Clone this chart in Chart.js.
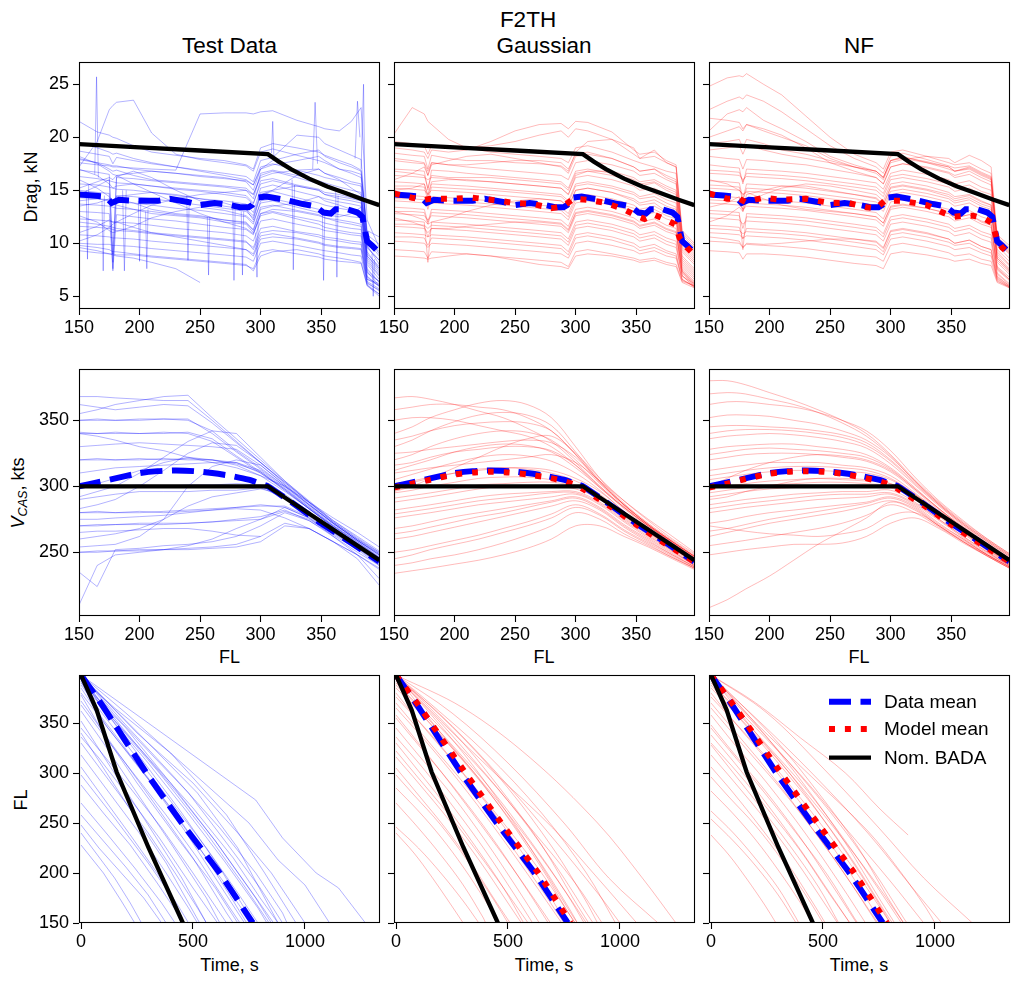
<!DOCTYPE html>
<html><head><meta charset="utf-8">
<script src="https://cdn.jsdelivr.net/npm/chart.js@4.4.0/dist/chart.umd.min.js"></script>
<style>
body{margin:0;background:#fff;width:1018px;height:984px;position:relative;overflow:hidden;font-family:"Liberation Sans",Arial,sans-serif;color:#000;}
canvas{position:absolute;}
.t{position:absolute;white-space:nowrap;transform:translate(-50%,-50%);line-height:1.15;}
.r{transform:translate(-50%,-50%) rotate(-90deg);}
.l{position:absolute;white-space:nowrap;transform:translateY(-50%);line-height:1.15;font-size:19px;}
sub{font-size:70%;vertical-align:-0.25em;}
</style></head><body>
<div class="t" style="left:528px;top:20px;font-size:22.5px">F2TH</div>
<div class="t" style="left:229.5px;top:46px;font-size:22.5px">Test Data</div>
<div class="t" style="left:544px;top:46px;font-size:22.5px">Gaussian</div>
<div class="t" style="left:859px;top:46px;font-size:22.5px">NF</div>
<div class="t r" style="left:31px;top:187px;font-size:18px">Drag, kN</div>
<div class="t r" style="left:19px;top:493px;font-size:18px"><i>V</i><sub><i>CAS</i></sub>, kts</div>
<div class="t r" style="left:21px;top:800px;font-size:18px">FL</div>
<div class="t" style="left:229.5px;top:657px;font-size:18px">FL</div>
<div class="t" style="left:544px;top:657px;font-size:18px">FL</div>
<div class="t" style="left:859px;top:657px;font-size:18px">FL</div>
<div class="t" style="left:229.5px;top:965px;font-size:18px">Time, s</div>
<div class="t" style="left:544px;top:965px;font-size:18px">Time, s</div>
<div class="t" style="left:859px;top:965px;font-size:18px">Time, s</div>
<script>
// ---------------- DATA ----------------
const flTicks = [150, 200, 250, 300, 350];
const dragTicks = [5, 10, 15, 20, 25];
const vcasTicks = [250, 300, 350];
const timeTicks = [0, 500, 1000];
const flYTicks = [150, 200, 250, 300, 350];

// FL grid for drag trajectories
const flGridDrag = [150,165,175,178,181,195,210,230,250,270,288,294,300,310,330,348,353,365,375,383,388,398];
// FL grid for speed trajectories
const flGridVcas = [150,165,180,200,220,240,260,280,300,320,340,360,380,398];

// Nominal BADA
const dragBADA = [[150,19.35],[200,19.05],[250,18.75],[306,18.4],[315,17.7],[325,17.0],[340,16.1],[355,15.35],[370,14.75],[385,14.1],[398,13.6]];
const vcasBADA = [[150,300],[306,300],[398,244]];
const timeBADA = [[0,398],[70,363],[159,301],[300,226],[455,150]];

// Data means
const dragDataMean = [[150,14.6],[162,14.5],[172,14.4],[177,13.8],[183,14.1],[195,14.0],[205,14.0],[215,14.0],[225,14.2],[240,13.9],[250,13.6],[262,13.8],[275,13.6],[283,13.4],[290,13.4],[293,13.6],[297,14.3],[305,14.4],[320,14.1],[335,13.7],[345,13.5],[352,12.9],[358,12.8],[362,13.2],[372,13.2],[380,12.9],[384,12.5],[388,10.2],[392,9.8],[398,9.1]];
const vcasDataMean = [[150,300],[165,303],[180,306],[200,310],[215,311.5],[230,312],[245,311.5],[260,310],[275,308],[290,305],[300,302],[306,300],[330,285],[350,272],[375,257],[398,243]];
const timeDataMean = [[0,398],[100,366],[292,300],[450,250],[619,200],[767,150]];

// Model means
const dragModelMeanG = [[150,14.7],[165,14.3],[175,14.1],[180,14.2],[200,14.2],[215,14.3],[230,14.1],[250,13.8],[265,13.7],[280,13.3],[290,13.5],[298,14.2],[310,14.1],[325,13.8],[340,13.2],[350,12.6],[357,12.3],[365,12.7],[375,12.2],[382,11.8],[386,10.5],[392,9.6],[398,8.9]];
const dragModelMeanNF = [[150,14.7],[165,14.2],[175,14.2],[180,13.9],[195,14.3],[210,14.1],[230,14.2],[250,13.8],[265,13.8],[280,13.4],[288,13.3],[295,14.0],[310,14.0],[330,13.6],[345,12.8],[352,12.5],[360,12.6],[368,12.6],[378,12.3],[384,11.9],[388,10.3],[392,9.6],[398,9.0]];
const vcasModelMeanG = [[150,299],[165,302],[180,305],[200,309],[215,310.5],[230,311],[245,310.5],[260,309],[275,307],[290,304],[300,301],[306,298],[330,284],[350,271],[375,256],[398,243]];
const vcasModelMeanNF = [[150,299],[165,302],[180,305.5],[200,309.5],[215,311],[230,311.5],[245,311],[260,309.5],[275,307],[290,304],[300,301],[306,298],[330,284],[350,271],[375,256],[398,243]];
const timeModelMeanG = [[0,398],[100,368],[310,300],[470,250],[635,200],[780,150]];
const timeModelMeanNF = [[0,398],[100,368],[312,300],[475,250],[640,200],[785,150]];

// Drag trajectories: Test Data
const dragTest = [
 [21.5,20.5,20.2,20.0,19.9,19.2,18.6,18.3,18.0,17.8,17.4,17.0,19.0,19.4,19.0,18.6,18.3,17.8,17.4,16.9,10.8,9.9],
 [17.6,17.4,17.3,17.2,17.2,17.1,17.0,16.9,22.2,22.3,22.3,22.2,22.4,22.5,21.6,21.0,20.8,20.6,21.5,22.8,12.2,9.6],
 [17.2,19.6,22.6,23.0,23.3,23.5,20.4,18.4,17.9,17.6,17.3,16.8,18.6,18.9,18.3,17.8,17.6,17.0,16.6,16.2,11.2,10.6],
 [18.7,18.4,18.2,17.5,18.1,17.8,17.5,17.2,16.9,16.6,16.3,15.8,17.8,18.1,20.2,20.0,19.4,18.8,18.3,17.9,10.2,8.8],
 [17.9,17.6,17.4,17.3,17.3,17.0,16.8,16.6,16.3,16.1,15.9,15.5,17.2,17.5,16.9,16.4,16.2,15.9,15.6,15.4,9.6,8.4],
 [16.9,16.7,16.5,9.0,16.2,16.1,15.9,15.7,15.5,15.3,15.0,14.2,16.6,16.9,16.4,15.9,15.7,15.3,15.0,14.8,9.2,7.6],
 [16.3,16.1,15.9,15.8,15.7,15.6,15.4,15.1,14.9,14.6,14.3,13.7,15.9,16.1,15.5,15.1,14.8,14.6,14.3,14.1,8.6,7.2],
 [15.6,15.5,15.3,15.2,15.1,15.0,14.8,14.5,14.2,14.0,13.7,12.9,15.2,15.5,14.9,14.4,14.2,13.9,13.7,13.5,8.2,6.9],
 [15.0,14.8,14.7,7.6,14.5,14.4,14.2,13.9,13.6,13.3,13.0,12.4,14.6,14.9,14.3,13.8,13.6,13.3,13.1,12.9,8.0,6.6],
 [14.3,14.2,14.0,13.9,13.9,13.8,13.6,13.3,13.1,12.8,12.5,11.8,14.0,14.2,13.7,13.2,13.0,12.7,12.5,12.4,7.6,6.3],
 [13.7,13.6,13.5,13.4,13.3,13.2,13.0,12.7,12.5,12.2,11.9,11.3,13.4,13.6,13.1,12.7,12.4,12.2,12.0,11.8,7.3,6.0],
 [13.0,12.9,12.8,7.4,12.7,12.5,12.3,12.1,11.8,11.5,11.3,10.8,12.8,13.0,12.5,12.1,11.9,11.6,11.4,11.3,6.9,5.9],
 [12.3,12.2,12.1,12.0,12.0,11.9,11.7,11.4,11.2,11.0,10.7,10.2,12.1,12.3,11.8,11.4,11.2,11.0,10.8,10.7,6.6,6.2],
 [11.6,11.5,11.4,11.3,11.2,11.1,10.9,10.7,10.5,10.3,10.1,9.6,11.4,11.6,11.1,10.8,10.6,10.4,10.2,10.1,6.4,5.7],
 [10.8,10.7,10.6,10.5,10.5,10.4,10.2,10.0,9.8,9.6,9.4,9.0,10.7,10.9,10.5,10.1,9.9,9.7,9.6,9.5,6.3,5.5],
 [10.0,9.9,9.9,9.8,9.8,9.7,9.5,9.3,9.1,8.9,8.7,8.3,10.0,10.2,9.8,9.4,9.3,9.1,8.9,8.8,6.1,5.2],
 [9.3,9.1,9.0,9.0,8.9,8.9,8.7,8.5,8.3,8.1,7.9,7.6,9.2,9.4,9.0,8.7,8.5,8.3,8.2,8.1,6.0,5.0],
 [9.6,9.3,9.0,8.9,8.8,8.6,8.2,7.6,6.3,null,null,null,null,null,null,null,null,null,null,null,null,null],
 [10.2,10.8,11.5,11.8,12.0,12.8,13.6,14.2,14.6,14.8,15.0,14.6,16.4,16.8,16.2,15.6,15.3,15.0,14.7,14.4,9.0,7.8],
 [18.2,17.5,16.8,16.5,16.4,15.6,14.8,13.8,12.8,12.0,11.4,10.9,12.6,12.9,12.3,11.8,11.5,11.2,11.0,10.9,6.8,6.0],
 [14.6,15.4,16.0,8.2,16.3,16.8,16.2,15.0,14.0,13.5,13.2,12.6,14.8,15.0,16.4,17.0,16.6,16.0,15.2,14.6,9.8,8.0],
 [12.6,12.0,11.2,11.0,11.1,11.6,12.4,13.0,13.4,13.1,12.6,12.0,13.8,14.0,13.4,12.9,12.7,12.5,12.8,13.4,7.4,6.4],
 [19.5,19.0,18.6,18.4,18.5,18.0,17.6,17.2,16.8,16.4,16.0,15.5,17.0,17.4,17.8,18.2,17.8,17.0,16.8,16.5,10.4,9.2],
 [16.0,15.2,14.4,14.0,14.2,13.8,13.2,12.8,12.6,12.2,12.0,11.2,13.2,13.5,13.8,14.4,14.0,13.6,13.2,13.0,8.4,7.0],
 [13.5,13.8,14.2,14.0,14.4,14.6,14.8,14.6,14.2,13.8,13.2,12.2,14.6,15.0,15.4,15.0,14.6,14.2,14.0,13.8,8.8,7.4],
 [11.0,11.6,12.2,12.0,12.0,11.5,11.0,10.6,10.2,9.8,9.4,8.8,10.4,10.6,10.4,10.0,9.8,9.6,9.5,9.4,6.2,5.6],
 [15.2,15.8,16.2,16.0,16.4,16.6,16.8,16.6,16.4,16.2,15.8,15.0,17.0,17.8,18.4,18.8,18.2,17.6,17.2,16.8,10.6,9.0],
 [12.0,11.8,11.6,11.5,11.4,11.2,11.0,10.8,10.6,10.4,10.2,9.4,11.0,11.2,11.0,10.6,10.4,10.2,10.0,9.9,6.6,6.0],
 [14.0,14.2,14.1,14.0,13.6,13.2,12.8,12.6,12.4,12.0,11.8,11.0,12.8,13.2,13.0,12.6,12.4,12.0,11.8,11.6,7.2,6.4],
 [17.0,16.4,15.6,15.2,15.4,15.6,15.4,15.2,15.0,14.8,14.5,13.8,15.6,15.9,15.4,15.0,14.6,14.4,14.2,14.0,8.8,7.6],
 [9.8,9.6,9.4,9.2,9.2,9.0,8.8,8.6,8.4,8.2,8.0,7.4,8.8,9.2,9.4,9.0,8.8,8.6,8.4,8.2,6.0,5.2],
 [18.0,17.6,17.0,16.8,16.9,16.4,16.0,15.8,15.6,15.4,15.2,14.6,16.2,16.6,16.9,17.0,16.6,16.2,15.8,15.6,9.6,8.4]
];
// Drag spikes in Test Data (short excursions)
const dragTestSpikes = [
 [[163,16.5],[164.5,25.7],[166,16.2]],
 [[156,15.0],[157,8.5],[158,15.5]],
 [[169,14.0],[170,7.4],[171,14.5]],
 [[186,15.0],[187.5,7.4],[189,15.0]],
 [[199,14.0],[200,8.3],[201,13.8]],
 [[205,13.0],[206,7.6],[207,13.2]],
 [[239,14.5],[240,8.4],[241,14.0]],
 [[256,12.5],[257,7.0],[258,12.5]],
 [[277,14.0],[278,6.5],[279,13.5]],
 [[284,13.0],[285,7.0],[286,13.0]],
 [[296,11.0],[297,6.8],[298,12.0]],
 [[309,18.5],[310,21.5],[311,18.0]],
 [[343,17.0],[345,23.3],[347,17.5]],
 [[326,16.0],[327,7.5],[328,15.5]],
 [[351,13.0],[352,6.5],[353,12.8]],
 [[362,15.0],[363,6.8],[364,14.5]],
 [[378,18.0],[380,23.4],[382,20.0]],
 [[383,17.0],[385,25.0],[386.5,11.0]],
 [[392,9.0],[393,5.0],[394,8.5]]
];
// Drag trajectories: Gaussian samples
const dragGauss = [
 [20.3,22.8,22.2,21.5,21.2,19.8,19.0,18.6,18.4,18.2,18.0,17.6,19.0,19.2,18.6,17.8,17.6,17.2,16.8,16.6,10.5,9.4],
 [19.0,18.8,18.6,18.0,18.8,18.6,18.8,19.6,20.6,21.2,21.3,20.8,21.5,21.4,20.5,18.8,18.4,18.6,17.8,17.4,11.2,10.0],
 [18.5,18.3,18.2,17.0,18.3,18.0,17.8,17.8,17.6,17.5,17.3,16.8,18.6,19.6,19.8,19.0,18.0,18.8,17.6,17.2,10.8,9.6],
 [17.8,17.6,17.5,16.4,17.6,17.4,17.2,17.0,16.8,16.6,16.4,16.0,17.6,17.8,17.4,16.8,16.4,16.6,16.0,15.6,10.0,8.8],
 [17.0,16.9,16.8,15.0,16.9,16.8,16.6,16.4,16.2,16.0,15.8,15.2,16.8,17.0,16.6,16.0,15.6,15.8,15.2,14.8,9.6,8.4],
 [16.4,16.3,16.2,16.0,16.2,16.1,15.9,15.8,15.6,15.4,15.2,14.6,16.2,16.4,16.0,15.4,15.0,15.2,14.6,14.3,9.2,8.0],
 [15.8,15.7,15.6,14.4,15.6,15.5,15.4,15.2,15.0,14.8,14.6,14.0,15.6,15.8,15.4,14.8,14.4,14.7,14.1,13.8,8.8,7.6],
 [15.2,15.1,15.0,14.6,15.0,14.9,14.8,14.6,14.4,14.2,14.0,13.4,15.0,15.2,14.8,14.2,13.8,14.1,13.5,13.2,8.4,7.2],
 [14.6,14.5,14.4,13.2,14.4,14.3,14.2,14.0,13.8,13.6,13.4,12.8,14.4,14.6,14.2,13.6,13.2,13.5,12.9,12.6,8.0,6.8],
 [14.0,13.9,13.8,13.5,13.8,13.7,13.6,13.4,13.2,13.0,12.8,12.2,13.8,14.0,13.6,13.0,12.6,12.9,12.3,12.0,7.6,6.4],
 [13.4,13.3,13.2,12.0,13.2,13.1,13.0,12.8,12.6,12.4,12.2,11.6,13.2,13.4,13.0,12.4,12.0,12.3,11.7,11.4,7.4,6.2],
 [12.8,12.7,12.6,12.2,12.6,12.5,12.4,12.2,12.0,11.8,11.6,11.0,12.6,12.8,12.4,11.8,11.4,11.7,11.1,10.8,7.2,6.0],
 [12.2,12.1,12.0,8.2,12.0,11.9,11.8,11.6,11.4,11.2,11.0,10.4,12.0,12.2,11.8,11.2,10.8,11.1,10.5,10.2,7.0,5.8],
 [11.6,11.5,11.4,11.0,11.4,11.3,11.2,11.0,10.8,10.6,10.4,9.8,11.4,11.6,11.2,10.6,10.2,10.5,9.9,9.6,6.9,6.2],
 [11.0,10.9,10.8,10.6,10.8,10.7,10.6,10.4,10.2,10.0,9.8,9.2,10.8,11.0,10.6,10.0,9.6,9.9,9.3,9.0,6.6,5.9],
 [10.2,10.1,10.0,9.6,10.0,9.9,9.8,9.6,9.4,9.2,9.0,8.6,10.0,10.2,9.8,9.3,9.0,9.3,8.8,8.6,6.5,6.0],
 [9.4,9.3,9.2,8.6,9.2,9.1,9.0,8.8,8.6,8.4,8.2,7.8,9.2,9.4,9.0,8.6,8.4,8.6,8.2,8.0,6.4,6.0],
 [8.8,8.7,8.6,8.5,8.6,8.8,9.0,8.8,8.4,8.0,7.8,7.6,8.8,9.0,8.8,8.4,8.2,8.4,8.0,7.8,6.3,5.8],
 [16.0,16.6,17.2,16.4,17.4,17.8,18.2,18.4,18.0,17.6,17.2,16.6,18.2,18.4,18.0,17.2,16.8,17.0,16.2,15.8,10.2,9.0],
 [13.0,12.6,12.2,11.8,12.0,12.4,13.0,13.6,14.0,14.2,14.0,13.4,15.0,15.2,14.8,14.0,13.6,13.8,13.0,12.6,8.2,7.0],
 [18.0,17.8,17.6,16.8,17.6,17.4,17.4,17.6,17.8,17.8,17.6,17.0,18.4,18.6,18.0,17.2,16.8,17.0,16.4,16.0,10.4,9.2],
 [16.8,16.6,16.4,15.2,16.4,16.2,16.2,16.2,16.0,15.8,15.6,15.0,16.6,16.8,16.4,15.8,15.4,15.7,15.0,14.6,9.4,8.2],
 [15.4,15.4,15.3,14.0,15.3,15.2,15.1,15.0,14.8,14.6,14.4,13.8,15.4,15.6,15.2,14.6,14.2,14.4,13.8,13.4,8.6,7.4],
 [14.2,14.2,14.1,13.8,14.1,14.0,13.9,13.7,13.5,13.3,13.1,12.5,14.1,14.3,13.9,13.3,12.9,13.2,12.6,12.3,7.8,6.6],
 [13.0,13.0,12.9,11.8,12.9,12.8,12.7,12.5,12.3,12.1,11.9,11.3,12.9,13.1,12.7,12.1,11.7,12.0,11.4,11.1,7.3,6.1],
 [11.8,11.8,11.7,11.4,11.7,11.6,11.5,11.3,11.1,10.9,10.7,10.1,11.7,11.9,11.5,10.9,10.5,10.8,10.2,9.9,6.9,6.0],
 [10.6,10.6,10.5,9.8,10.5,10.4,10.3,10.1,9.9,9.7,9.5,8.9,10.5,10.7,10.3,9.7,9.3,9.6,9.1,8.8,6.6,5.9],
 [19.6,19.4,19.2,18.4,19.2,19.0,19.0,19.2,19.6,20.2,20.6,20.0,20.8,20.6,19.8,18.4,18.0,18.2,17.6,17.2,11.0,9.8],
 [15.0,15.2,15.6,14.6,15.8,16.0,16.0,15.8,15.6,15.4,15.2,14.6,16.4,16.8,16.8,16.2,15.8,16.0,15.4,15.0,9.8,8.6],
 [12.4,12.0,11.6,10.6,11.4,11.4,11.6,11.8,12.0,12.0,11.8,11.2,12.8,13.0,12.6,12.0,11.6,11.9,11.3,11.0,7.4,6.3]
];
// Drag trajectories: NF samples
const dragNF = [
 [24.8,25.6,25.8,25.7,26.0,25.0,24.0,22.0,20.0,18.4,17.6,17.0,18.6,18.8,18.2,17.6,17.4,17.6,17.0,16.6,10.6,9.6],
 [20.6,22.2,22.6,22.4,22.8,21.6,20.8,19.6,18.2,17.4,16.8,16.2,17.8,18.2,17.6,17.0,16.8,17.0,16.4,16.0,10.2,9.2],
 [21.8,21.6,21.4,20.8,21.2,20.6,20.0,19.2,18.0,17.2,16.6,16.0,17.6,17.9,18.2,18.0,17.6,18.3,17.8,17.2,10.8,9.8],
 [19.4,19.6,19.8,19.0,19.8,19.4,18.8,18.4,17.8,17.2,16.8,16.2,17.8,18.0,17.6,17.2,16.8,17.2,16.6,16.2,10.0,9.0],
 [18.2,18.0,17.9,17.0,17.9,17.8,17.6,17.4,17.0,16.6,16.2,15.6,17.2,17.5,17.1,16.6,16.2,16.5,15.9,15.5,9.8,8.6],
 [17.4,17.2,17.1,15.6,17.0,16.9,16.8,16.6,16.3,16.0,15.7,15.1,16.6,16.9,16.5,16.0,15.6,15.9,15.3,15.0,9.4,8.3],
 [16.6,16.5,16.4,16.0,16.3,16.2,16.1,15.9,15.6,15.3,15.0,14.4,16.0,16.2,15.8,15.3,14.9,15.2,14.6,14.3,9.0,7.9],
 [15.9,15.8,15.7,14.2,15.6,15.5,15.4,15.2,14.9,14.6,14.3,13.7,15.3,15.5,15.1,14.6,14.2,14.5,13.9,13.6,8.6,7.5],
 [15.2,15.1,15.0,14.6,14.9,14.8,14.7,14.5,14.2,13.9,13.6,13.0,14.6,14.8,14.4,13.9,13.5,13.8,13.2,12.9,8.2,7.1],
 [14.5,14.4,14.3,13.0,14.2,14.1,14.0,13.8,13.5,13.2,12.9,12.3,13.9,14.1,13.7,13.2,12.8,13.1,12.5,12.2,7.8,6.8],
 [13.8,13.7,13.6,13.2,13.5,13.4,13.3,13.1,12.8,12.5,12.2,11.6,13.2,13.4,13.0,12.5,12.1,12.4,11.8,11.5,7.5,6.5],
 [13.1,13.0,12.9,9.4,12.8,12.7,12.6,12.4,12.1,11.8,11.5,10.9,12.5,12.7,12.3,11.8,11.4,11.7,11.1,10.8,7.2,6.2],
 [12.4,12.3,12.2,11.8,12.1,12.0,11.9,11.7,11.4,11.1,10.8,10.2,11.8,12.0,11.6,11.1,10.7,11.0,10.4,10.1,6.9,6.0],
 [11.7,11.6,11.5,10.4,11.4,11.3,11.2,11.0,10.7,10.4,10.1,9.5,11.1,11.3,10.9,10.4,10.0,10.3,9.7,9.4,6.7,5.9],
 [11.0,10.9,10.8,10.5,10.7,10.6,10.5,10.3,10.0,9.7,9.4,8.9,10.4,10.6,10.2,9.7,9.4,9.6,9.1,8.8,6.5,5.8],
 [10.2,10.1,10.0,9.6,9.9,9.8,9.7,9.5,9.2,8.9,8.7,8.3,9.8,10.0,9.6,9.1,8.8,9.0,8.5,8.3,6.4,5.9],
 [9.3,9.2,9.1,8.5,9.0,9.0,8.9,8.7,8.4,8.1,7.9,7.6,9.0,9.2,8.9,8.5,8.3,8.5,8.1,7.9,6.3,5.8],
 [12.0,12.6,13.4,13.0,13.8,14.6,15.2,15.6,15.4,15.0,14.6,14.0,15.6,15.8,15.4,14.8,14.4,14.6,14.0,13.6,8.8,7.6],
 [16.0,15.6,15.0,14.6,14.8,14.2,13.6,13.2,13.0,12.8,12.5,11.9,13.4,13.6,13.3,12.8,12.4,12.7,12.0,11.7,7.6,6.6],
 [18.8,19.0,19.2,18.4,19.2,18.8,18.4,18.0,17.6,17.2,16.8,16.2,17.8,18.1,17.7,17.2,16.8,17.1,16.5,16.1,10.4,9.3],
 [16.9,16.8,16.7,15.8,16.6,16.5,16.4,16.2,15.9,15.6,15.3,14.7,16.3,16.5,16.1,15.6,15.2,15.5,14.9,14.6,9.2,8.0],
 [15.5,15.4,15.3,14.0,15.2,15.1,15.0,14.8,14.5,14.2,13.9,13.3,14.9,15.1,14.7,14.2,13.8,14.1,13.5,13.2,8.4,7.3],
 [14.1,14.0,13.9,13.6,13.8,13.7,13.6,13.4,13.1,12.8,12.5,11.9,13.5,13.7,13.3,12.8,12.4,12.7,12.1,11.8,7.7,6.6],
 [12.8,12.7,12.6,11.4,12.5,12.4,12.3,12.1,11.8,11.5,11.2,10.6,12.2,12.4,12.0,11.5,11.1,11.4,10.8,10.5,7.1,6.1],
 [11.4,11.3,11.2,10.9,11.1,11.0,10.9,10.7,10.4,10.1,9.8,9.2,10.8,11.0,10.6,10.1,9.8,10.0,9.4,9.1,6.6,5.9],
 [22.6,23.4,23.8,23.6,24.0,23.4,22.4,20.8,19.2,18.0,17.2,16.6,18.2,18.5,17.9,17.3,17.1,17.3,16.7,16.3,10.4,9.4],
 [20.0,20.6,21.0,20.6,21.2,20.8,20.2,19.0,17.6,16.8,16.2,15.6,17.2,17.5,17.2,16.7,16.4,16.8,16.2,15.8,10.1,9.1],
 [13.4,13.8,14.4,13.2,14.6,15.0,15.4,15.4,15.0,14.6,14.2,13.6,15.2,15.4,15.0,14.4,14.0,14.3,13.7,13.4,8.6,7.4],
 [10.6,10.4,10.2,9.6,10.0,9.9,10.0,10.2,10.4,10.4,10.2,9.6,11.2,11.4,11.0,10.4,10.0,10.3,9.7,9.4,6.8,6.0]
];

// Speed trajectories: Test Data
const vcasTest = [
 [350,350,350,351,351,351,340,326,313,300,285,271,258,247],
 [341,340,340,340,341,340,334,322,310,298,283,269,256,245],
 [320,320,320,320,321,320,320,318,310,297,283,269,256,244],
 [300,300,300,300,300,300,300,300,300,292,279,267,255,243],
 [280,280,280,280,281,282,283,284,285,285,277,265,254,242],
 [270,271,271,272,272,272,273,274,275,281,275,264,253,241],
 [250,251,251,252,252,252,253,254,258,270,268,258,248,238],
 [368,368,367,366,365,365,350,334,318,303,288,273,260,250],
 [355,358,362,365,368,369,352,336,320,304,289,274,261,250],
 [330,331,332,333,332,331,330,328,316,301,286,272,259,248],
 [310,312,314,315,316,317,318,318,312,299,284,270,257,246],
 [260,262,264,268,275,285,292,295,298,294,281,268,256,245],
 [254,255,256,262,275,300,315,320,316,301,286,272,259,248],
 [290,292,294,296,296,296,297,297,299,291,278,266,254,243],
 [283,286,290,300,312,325,333,331,318,303,288,274,262,251],
 [265,266,266,267,268,268,266,263,262,null,null,null,null,null],
 [210,240,248,250,252,255,260,268,275,284,276,262,248,230],
 [275,275,276,277,278,280,282,283,282,276,268,258,245,225],
 [340,338,335,330,327,322,318,314,308,300,288,276,265,254],
 [300,302,306,312,318,322,320,316,308,296,283,270,258,246],
 [235,224,252,253,255,256,258,262,270,280,274,262,250,240],
 [350,351,350,350,351,350,342,327,314,300,286,272,259,248],
 [340,340,341,340,340,341,336,323,311,298,284,270,257,246],
 [320,321,320,321,320,321,320,317,311,297,283,269,256,245],
 [280,281,280,281,280,281,282,284,286,284,276,265,253,242],
 [250,250,251,251,252,253,254,256,262,272,268,258,248,237],
 [270,270,271,271,271,272,273,275,277,282,274,263,252,240],
 [362,360,358,360,362,361,348,333,318,302,287,272,259,249],
 [292,296,300,310,322,334,342,340,322,304,288,273,260,249],
 [300,301,300,301,300,301,301,302,301,293,280,267,255,244]
];
// Speed trajectories: Gaussian samples
const vcasGauss = [
 [367,368,366,362,357,352,344,334,318,300,284,270,258,247],
 [340,345,352,358,363,365,362,352,330,306,287,272,259,248],
 [330,335,342,349,354,356,354,346,326,304,286,271,258,247],
 [320,324,330,336,340,342,341,335,320,302,285,270,257,246],
 [312,316,320,326,330,332,331,326,314,299,283,269,256,245],
 [305,309,313,318,322,324,323,319,310,297,281,268,255,244],
 [300,303,306,310,313,314,313,310,304,294,279,266,254,243],
 [295,297,300,303,306,307,307,305,301,292,278,265,253,242],
 [288,290,292,295,298,300,300,300,298,290,276,264,252,241],
 [282,284,286,289,292,294,295,296,296,288,275,263,251,240],
 [276,278,280,283,286,288,290,292,294,286,273,261,250,240],
 [268,270,273,277,280,283,286,289,292,284,271,260,249,239],
 [260,262,265,269,273,277,281,285,289,282,269,258,248,239],
 [250,252,255,259,263,268,273,279,286,279,267,257,247,238],
 [240,242,245,248,252,257,263,270,280,275,264,255,246,238],
 [234,236,238,241,244,248,253,260,270,270,262,254,245,237],
 [350,352,352,350,346,342,338,330,316,299,284,270,257,246],
 [325,326,328,330,332,334,335,333,322,303,286,271,258,247],
 [296,300,306,314,322,330,336,338,325,306,289,274,260,249],
 [310,312,314,316,318,320,322,324,318,304,289,275,262,250],
 [358,360,362,362,360,358,352,342,324,303,286,271,258,247],
 [335,338,342,346,348,349,348,342,324,304,286,271,258,247],
 [316,318,322,326,328,330,330,327,316,300,284,270,257,246],
 [302,304,307,310,312,314,314,312,306,296,281,267,255,244],
 [291,293,295,298,301,302,303,303,300,291,277,265,253,242],
 [279,281,283,286,289,291,293,295,295,287,274,262,251,240],
 [264,266,269,273,277,280,284,288,291,283,270,259,248,239],
 [245,248,252,256,260,265,270,276,284,278,266,256,246,238]
];
// Speed trajectories: NF samples
const vcasNF = [
 [380,380,377,371,365,358,350,340,324,305,288,273,260,249],
 [362,364,364,362,360,356,350,342,327,307,289,274,260,249],
 [352,354,354,353,350,347,342,335,322,304,287,272,259,248],
 [345,346,346,345,344,342,339,333,320,303,286,271,258,247],
 [336,338,339,340,339,337,334,329,317,301,285,270,257,246],
 [328,330,331,332,332,330,328,324,314,299,283,269,256,245],
 [320,322,324,325,325,324,322,319,311,297,282,268,255,244],
 [312,314,316,318,318,318,316,314,308,295,281,267,254,243],
 [305,307,309,311,312,312,311,310,305,294,280,266,253,242],
 [298,300,302,304,305,306,305,304,302,292,278,265,252,242],
 [292,294,296,298,299,300,300,300,299,290,277,264,251,241],
 [286,288,290,292,294,295,296,296,297,288,275,262,250,240],
 [280,282,284,286,288,290,291,292,294,286,274,261,249,240],
 [272,274,277,280,282,284,286,288,292,285,272,260,248,239],
 [262,265,268,272,275,278,281,285,289,283,270,259,248,239],
 [248,250,252,254,256,256,257,262,272,276,268,257,247,238],
 [208,214,222,232,244,256,266,276,288,282,270,258,247,238],
 [290,292,296,300,304,306,306,305,302,293,279,266,253,242],
 [270,268,266,264,263,262,264,268,278,280,270,258,248,239],
 [300,306,312,318,322,324,323,320,312,298,283,269,256,245],
 [370,371,370,366,362,356,348,338,323,304,287,272,259,248],
 [340,342,343,343,342,340,337,331,319,302,286,271,258,247],
 [324,326,328,329,328,327,325,322,313,298,283,268,256,245],
 [308,310,312,314,315,315,314,312,306,294,280,266,254,243],
 [295,297,299,301,302,303,303,302,300,291,278,265,252,241],
 [283,285,287,289,291,293,294,294,295,287,275,262,250,240],
 [266,268,271,275,278,281,284,287,291,284,271,260,248,239],
 [255,257,259,262,265,268,272,278,286,280,269,258,247,238]
];

// Altitude profiles [time s, FL]: Test Data
const timeTest = [
 [[0,398],[300,350],[780,273],[900,235],[1050,200],[1150,185],[1270,150]],
 [[0,398],[200,360],[500,300],[750,250],[880,213],[1000,188],[1110,150]],
 [[0,395],[150,365],[400,320],[650,258],[820,200],[960,150]],
 [[0,398],[100,375],[300,330],[520,280],[700,225],[880,150]],
 [[0,390],[150,352],[350,300],[560,240],[720,190],[840,150]],
 [[0,398],[80,370],[250,320],[450,260],[620,205],[770,150]],
 [[0,385],[120,345],[300,295],[480,240],[640,190],[760,150]],
 [[0,378],[100,340],[250,290],[430,235],[600,185],[700,150]],
 [[0,372],[150,325],[320,272],[500,215],[650,160],[680,150]],
 [[0,362],[100,330],[250,280],[400,230],[560,175],[620,150]],
 [[0,352],[120,310],[280,255],[450,195],[560,150]],
 [[0,340],[100,305],[230,260],[380,210],[500,162],[530,150]],
 [[0,336],[80,315],[200,280],[350,235],[500,185],[610,150]],
 [[0,330],[150,285],[300,240],[420,200],[520,165],[560,150]],
 [[0,318],[120,282],[260,240],[380,200],[480,165],[520,150]],
 [[0,306],[100,275],[220,238],[340,200],[440,165],[480,150]],
 [[0,298],[150,255],[300,210],[400,178],[460,150]],
 [[0,288],[100,260],[220,228],[340,190],[430,160],[460,150]],
 [[0,270],[120,238],[240,205],[360,170],[420,150]],
 [[0,258],[100,232],[200,206],[300,178],[380,150]],
 [[0,248],[80,225],[180,200],[280,175],[360,150]],
 [[0,240],[60,222],[150,195],[220,170],[270,150]],
 [[0,228],[100,200],[180,172],[240,150]],
 [[0,398],[50,380],[200,345],[400,290],[600,232],[780,175],[850,150]],
 [[0,398],[150,358],[330,315],[480,280],[650,230],[800,185],[900,150]],
 [[0,392],[60,365],[180,330],[330,285],[470,240],[600,195],[730,150]],
 [[0,398],[120,360],[300,315],[500,265],[680,215],[800,175],[880,150]],
 [[0,396],[100,368],[260,325],[430,280],[600,232],[750,185],[860,150]],
 [[0,394],[150,350],[300,310],[470,262],[640,212],[790,165],[830,150]],
 [[0,398],[200,348],[420,295],[620,245],[780,200],[900,160],[920,150]],
 [[0,388],[100,358],[250,315],[400,272],[560,225],[700,180],[790,150]],
 [[0,380],[120,345],[260,305],[420,260],[560,215],[680,172],[740,150]],
 [[0,368],[100,338],[240,298],[380,258],[520,215],[650,170],[710,150]],
 [[0,345],[100,318],[220,285],[360,245],[500,200],[620,160],[650,150]],
 [[0,398],[250,340],[500,290],[700,240],[850,200],[1000,150]]
];
// Altitude profiles: Gaussian samples
const timeGauss = [
 [[0,398],[300,365],[600,315],[900,250],[1100,195],[1250,150]],
 [[0,398],[250,360],[500,310],[750,250],[950,195],[1170,150]],
 [[0,396],[200,358],[450,300],[700,235],[900,180],[1000,150]],
 [[0,390],[200,345],[400,298],[600,245],[800,190],[920,150]],
 [[0,398],[100,378],[300,335],[500,285],[700,225],[840,175],[900,150]],
 [[0,385],[150,350],[350,300],[550,245],[730,190],[850,150]],
 [[0,376],[150,340],[300,300],[480,250],[650,200],[800,150]],
 [[0,398],[150,360],[300,320],[450,275],[600,225],[780,160],[810,150]],
 [[0,365],[120,335],[280,292],[440,245],[600,195],[740,150]],
 [[0,355],[100,328],[250,288],[420,238],[580,185],[680,150]],
 [[0,345],[100,318],[250,278],[400,232],[540,185],[640,150]],
 [[0,336],[120,305],[260,265],[400,222],[530,178],[610,150]],
 [[0,330],[100,302],[220,268],[350,228],[480,185],[570,150]],
 [[0,316],[100,290],[240,252],[380,210],[500,170],[560,150]],
 [[0,305],[100,278],[220,245],[340,208],[450,170],[510,150]],
 [[0,298],[80,278],[200,248],[320,212],[440,172],[500,150]],
 [[0,285],[100,262],[200,236],[300,206],[400,172],[460,150]],
 [[0,270],[100,245],[200,218],[300,188],[390,155],[400,150]],
 [[0,246],[100,225],[200,200],[300,172],[370,150]],
 [[0,240],[80,220],[160,196],[240,170],[300,150]],
 [[0,398],[60,380],[200,340],[350,300],[500,255],[650,205],[770,160],[800,150]],
 [[0,398],[150,370],[400,320],[650,260],[850,200],[980,150]],
 [[0,392],[100,365],[250,328],[420,285],[600,232],[760,180],[840,150]],
 [[0,398],[120,372],[300,330],[480,280],[650,228],[790,175],[860,150]],
 [[0,395],[150,362],[350,312],[550,258],[720,205],[850,160],[880,150]],
 [[0,388],[130,355],[300,312],[480,262],[640,212],[780,162],[810,150]],
 [[0,380],[100,352],[260,310],[420,265],[580,215],[720,165],[760,150]],
 [[0,370],[150,330],[320,285],[480,238],[630,190],[750,150]],
 [[0,398],[200,352],[450,298],[700,245],[900,195],[1075,150]],
 [[0,358],[100,330],[240,290],[380,248],[520,205],[660,160],[690,150]],
 [[0,322],[100,295],[230,260],[360,222],[480,185],[590,150]]
];
// Altitude profiles: NF samples
const timeNF = [
 [[0,398],[200,370],[400,335],[600,300],[750,265],[880,238]],
 [[0,398],[250,360],[500,305],[750,245],[950,195],[1167,150]],
 [[0,396],[200,355],[450,300],[700,240],[900,185],[1030,150]],
 [[0,390],[200,345],[400,298],[600,245],[800,192],[950,150]],
 [[0,385],[150,350],[350,300],[550,245],[720,195],[860,150]],
 [[0,376],[150,340],[300,302],[480,252],[650,200],[800,150]],
 [[0,398],[150,362],[300,322],[450,278],[600,230],[750,175],[820,150]],
 [[0,370],[120,338],[280,295],[440,248],[600,198],[740,150]],
 [[0,358],[100,330],[250,290],[420,240],[580,188],[690,150]],
 [[0,348],[100,320],[250,280],[400,235],[540,188],[650,150]],
 [[0,338],[120,306],[260,266],[400,223],[530,180],[620,150]],
 [[0,328],[100,300],[220,266],[350,228],[480,186],[570,150]],
 [[0,318],[100,292],[240,254],[380,212],[500,172],[565,150]],
 [[0,306],[100,280],[220,246],[340,210],[450,172],[510,150]],
 [[0,296],[80,276],[200,247],[320,212],[440,172],[500,150]],
 [[0,282],[100,259],[200,233],[300,203],[400,170],[455,150]],
 [[0,262],[100,240],[200,214],[300,185],[380,155],[392,150]],
 [[0,254],[100,232],[200,207],[300,178],[380,150]],
 [[0,238],[80,218],[160,194],[240,168],[290,150]],
 [[0,398],[60,380],[200,340],[350,300],[500,254],[650,205],[780,158],[800,150]],
 [[0,392],[100,365],[250,328],[420,285],[600,232],[760,180],[850,150]],
 [[0,398],[120,372],[300,330],[480,280],[650,228],[790,175],[860,150]],
 [[0,395],[150,360],[350,310],[550,256],[720,204],[860,155],[875,150]],
 [[0,388],[130,354],[300,310],[480,260],[640,210],[780,160],[810,150]],
 [[0,380],[100,352],[260,310],[420,264],[580,214],[720,165],[760,150]],
 [[0,365],[150,326],[320,282],[480,236],[630,188],[745,150]],
 [[0,398],[200,350],[450,296],[700,242],[850,200],[960,165],[1000,150]],
 [[0,345],[100,318],[240,280],[380,240],[520,198],[640,155],[655,150]],
 [[0,330],[120,300],[260,262],[400,222],[520,182],[620,150]]
];

// ---------------- DRAWING ----------------
const FONT = "'Liberation Sans', Arial, sans-serif";
const COLX = [79, 394, 709];
const ROWY = [62, 369, 675];
const PW = 301, PH = [247, 247, 248];
const ML = 60, MR = 24, MT = 18, MB = 36;
const BLUE_T = 'rgba(0,0,255,0.3)', RED_T = 'rgba(255,0,0,0.27)';

const framePlugin = {id:'frame', afterDraw(ch){
  const a = ch.chartArea, c = ch.ctx;
  c.save(); c.strokeStyle = '#000'; c.lineWidth = 1.1;
  c.strokeRect(a.left + 0.5, a.top + 0.5, a.right - a.left - 1, a.bottom - a.top - 1);
  c.restore();
}};

const toXY = pts => pts.map(p => ({x:p[0], y:p[1]}));
const gridXY = (xs, ys) => ys.map((v,i) => ({x:xs[i], y:v}));
function thin(data, color, smooth){
  return {data, borderColor:color, borderWidth:1, pointRadius:0, fill:false, clip:0, order:10,
          tension: smooth ? 0.35 : 0, spanGaps:false};
}
function dataMean(pts, t){ return {data:toXY(pts), borderColor:'#0000ff', borderWidth:6, borderDash:[22,9.5], pointRadius:0, fill:false, clip:0, order:3, tension:t}; }
function modelMean(pts, t){ return {data:toXY(pts), borderColor:'#ff0000', borderWidth:6, borderDash:[6,9.9], pointRadius:0, fill:false, clip:0, order:2, tension:t}; }
function bada(pts){ return {data:toXY(pts), borderColor:'#000000', borderWidth:4.3, pointRadius:0, fill:false, clip:0, order:1, tension:0}; }

function panel(r, c, datasets, xr, xt, yr, yt){
  const W = PW + ML + MR, H = PH[r] + MT + MB;
  const cv = document.createElement('canvas');
  cv.width = W; cv.height = H;
  cv.style.left = (COLX[c] - ML) + 'px'; cv.style.top = (ROWY[r] - MT) + 'px';
  cv.style.width = W + 'px'; cv.style.height = H + 'px';
  document.body.appendChild(cv);
  const tickFont = {family:FONT, size:18};
  new Chart(cv, {
    type:'line',
    data:{datasets},
    options:{
      responsive:false, animation:false, devicePixelRatio:1, events:[],
      layout:{padding:{left:0, right:MR, top:MT, bottom:0}},
      plugins:{legend:{display:false}, tooltip:{enabled:false}, title:{display:false}},
      scales:{
        x:{type:'linear', min:xr[0], max:xr[1],
           afterFit:s => { s.height = MB; },
           afterBuildTicks:s => { s.ticks = xt.map(v => ({value:v})); },
           ticks:{font:tickFont, color:'#000', padding:2, maxRotation:0, autoSkip:false, callback:v => String(v)},
           grid:{drawOnChartArea:false, drawTicks:true, tickLength:6, tickColor:'#000', tickWidth:1.1},
           border:{display:false}},
        y:{type:'linear', min:yr[0], max:yr[1],
           afterFit:s => { s.width = ML; },
           afterBuildTicks:s => { s.ticks = yt.map(v => ({value:v})); },
           ticks:{font:tickFont, color:'#000', padding:4, autoSkip:false, callback:v => (c === 0 ? String(v) : '')},
           grid:{drawOnChartArea:false, drawTicks:true, tickLength:6, tickColor:'#000', tickWidth:1.1},
           border:{display:false}}
      }
    },
    plugins:[framePlugin]
  });
}

const FLR = [150, 398.6], DRR = [3.8, 27.1], VR = [201.7, 388.9], TR = [-9, 1335], FLY = [150, 398];

// Row 1: drag
panel(0, 0, [
  ...dragTest.map(l => thin(gridXY(flGridDrag, l), BLUE_T, false)),
  ...dragTestSpikes.map(s => thin(toXY(s), BLUE_T, false)),
  dataMean(dragDataMean, 0), bada(dragBADA)
], FLR, flTicks, DRR, dragTicks);
panel(0, 1, [
  ...dragGauss.map(l => thin(gridXY(flGridDrag, l), RED_T, false)),
  dataMean(dragDataMean, 0), modelMean(dragModelMeanG, 0), bada(dragBADA)
], FLR, flTicks, DRR, dragTicks);
panel(0, 2, [
  ...dragNF.map(l => thin(gridXY(flGridDrag, l), RED_T, false)),
  dataMean(dragDataMean, 0), modelMean(dragModelMeanNF, 0), bada(dragBADA)
], FLR, flTicks, DRR, dragTicks);

// Row 2: speed
panel(1, 0, [
  ...vcasTest.map(l => thin(gridXY(flGridVcas, l), BLUE_T, false)),
  dataMean(vcasDataMean, 0.2), bada(vcasBADA)
], FLR, flTicks, VR, vcasTicks);
panel(1, 1, [
  ...vcasGauss.map(l => thin(gridXY(flGridVcas, l), RED_T, true)),
  dataMean(vcasDataMean, 0.2), modelMean(vcasModelMeanG, 0.2), bada(vcasBADA)
], FLR, flTicks, VR, vcasTicks);
panel(1, 2, [
  ...vcasNF.map(l => thin(gridXY(flGridVcas, l), RED_T, true)),
  dataMean(vcasDataMean, 0.2), modelMean(vcasModelMeanNF, 0.2), bada(vcasBADA)
], FLR, flTicks, VR, vcasTicks);

// Row 3: altitude vs time
panel(2, 0, [
  ...timeTest.map(l => thin(toXY(l), BLUE_T, false)),
  dataMean(timeDataMean, 0.1), bada(timeBADA)
], TR, timeTicks, FLY, flYTicks);
panel(2, 1, [
  ...timeGauss.map(l => thin(toXY(l), RED_T, true)),
  dataMean(timeDataMean, 0.1), modelMean(timeModelMeanG, 0.1), bada(timeBADA)
], TR, timeTicks, FLY, flYTicks);
panel(2, 2, [
  ...timeNF.map(l => thin(toXY(l), RED_T, true)),
  dataMean(timeDataMean, 0.1), modelMean(timeModelMeanNF, 0.1), bada(timeBADA)
], TR, timeTicks, FLY, flYTicks);
</script>
<svg style="position:absolute;left:828px;top:690px" width="44" height="80">
  <line x1="1" y1="11.7" x2="43" y2="11.7" stroke="#0000ff" stroke-width="6" stroke-dasharray="22 9.5"/>
  <line x1="1" y1="39" x2="43" y2="39" stroke="#ff0000" stroke-width="6" stroke-dasharray="6 9.9"/>
  <line x1="1" y1="67.7" x2="43" y2="67.7" stroke="#000000" stroke-width="4.3"/>
</svg>
<div class="l" style="left:884px;top:701.7px">Data mean</div>
<div class="l" style="left:884px;top:729px">Model mean</div>
<div class="l" style="left:884px;top:757.7px">Nom. BADA</div>
</body></html>
